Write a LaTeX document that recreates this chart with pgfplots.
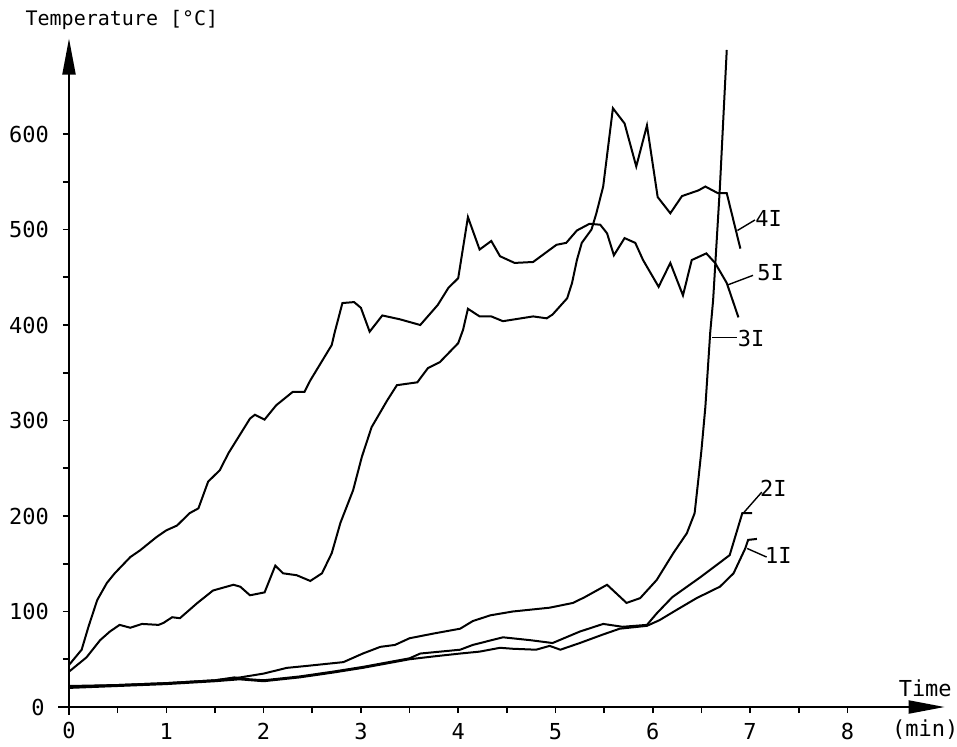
\documentclass[border=0pt]{standalone}
\usepackage{fontspec}
\setmainfont{DejaVu Sans Mono}
\usepackage{pgfplots}
\pgfplotsset{compat=1.18}
\usetikzlibrary{arrows.meta}

% temperature curves
\pgfplotstableread{
x y
0 44
0.13 60
0.2 84
0.29 112
0.39 130
0.47 140
0.63 157
0.73 164
0.9 178
1.0 185
1.11 190
1.24 203
1.33 208
1.43 236
1.55 248
1.64 266
1.86 302
1.91 306
2.01 301
2.13 316
2.30 330
2.42 330
2.48 342
2.70 379
2.73 392
2.81 423
2.93 424
3.0 418
3.09 393
3.22 410
3.40 406
3.61 400
3.79 421
3.90 439
4.0 449
4.10 513
4.22 479
4.34 488
4.43 472
4.58 465
4.77 466
5.01 484
5.11 486
5.22 499
5.35 506
5.46 505
5.53 496
5.60 473
5.71 491
5.82 486
5.90 468
6.06 440
6.18 465
6.31 431
6.40 468
6.55 475
6.64 465
6.76 444
6.88 408
}\fiveI

\pgfplotstableread{
x y
0 37
0.18 52
0.32 70
0.42 79
0.52 86
0.63 83
0.75 87
0.92 86
0.97 88
1.06 94
1.14 93
1.32 109
1.48 122
1.69 128
1.76 126
1.86 117
2.01 120
2.12 148
2.20 140
2.34 138
2.48 132
2.60 140
2.70 161
2.79 193
2.92 227
3.01 262
3.11 293
3.27 321
3.37 337
3.58 340
3.69 355
3.81 361
4.0 381
4.05 395
4.10 417
4.22 409
4.34 409
4.46 404
4.77 409
4.91 407
4.97 411
5.12 428
5.17 444
5.22 468
5.27 486
5.37 500
5.42 517
5.49 545
5.59 627
5.71 611
5.83 566
5.94 609
6.05 534
6.18 517
6.30 535
6.47 541
6.54 545
6.67 538
6.76 538
6.9 480
}\fourI

\pgfplotstableread{
x y
0 22
0.5 23
1.0 25
1.5 28
1.7 30
2.0 35
2.24 41
2.44 43
2.82 47
3.02 56
3.2 63
3.35 65
3.5 72
3.75 77
4.02 82
4.15 90
4.33 96
4.56 100
4.94 104
5.18 109
5.3 115
5.53 128
5.73 109
5.87 114
6.04 133
6.21 161
6.35 182
6.43 203
6.47 240
6.50 269
6.54 314
6.59 392
6.62 426
6.69 545
6.76 688
}\threeI

\pgfplotstableread{
x y
0 21
0.5 23
1.0 25
1.5 28
1.7 31
1.86 29
2.0 28
2.37 32
2.71 37
3.02 42
3.5 51
3.61 56
4.02 60
4.15 65
4.46 73
4.74 70
4.97 67
5.25 79
5.49 87
5.69 84
5.94 86
6.04 98
6.2 115
6.49 136
6.79 159
6.92 203
7.02 203
}\twoI

\pgfplotstableread{
x y
0 20
0.5 22
1.0 24
1.5 27
1.75 29
2.0 27
2.37 31
2.71 36
3.02 41
3.5 50
3.75 53
4.02 56
4.22 58
4.43 62
4.56 61
4.8 60
4.94 64
5.05 60
5.25 67
5.49 76
5.66 82
5.94 85
6.07 91
6.25 102
6.45 114
6.69 126
6.83 140
6.95 166
6.98 175
7.07 176
}\oneI

\begin{document}
\begin{tikzpicture}
\path[use as bounding box] (-34.5pt,-19.5pt) rectangle (444pt,353.5pt);
\begin{axis}[
    anchor=origin, at={(0pt,0pt)},
    x=48.65pt, y=0.4775pt,
    xmin=-0.11, xmax=9,
    ymin=-8, ymax=700,
    axis lines=middle,
    axis line style={line width=1pt, -{Triangle[length=18pt,width=6.5pt]}},
    xtick={0,1,...,8},
    ytick={0,100,...,600},
    minor tick num=1,
    tick align=outside,
    major tick length=3pt,
    minor tick length=3pt,
    tick style={line width=0.8pt, black},
    /pgf/number format/assume math mode=true,
    tick label style={font=\fontsize{11}{13}\selectfont},
    xticklabel style={yshift=-1.5pt},
    yticklabel style={xshift=-3.5pt},
    clip=false,
]
\addplot[black, line width=1pt] table {\fiveI};
\addplot[black, line width=1pt] table {\fourI};
\addplot[black, line width=1pt] table {\threeI};
\addplot[black, line width=1pt] table {\twoI};
\addplot[black, line width=1pt] table {\oneI};

% origin labels (hidden by the centred axis lines)
\node[anchor=base, inner sep=0, font=\fontsize{11}{13}\selectfont] at ([yshift=-15.5pt]axis cs:0,0) {0};
\node[anchor=east, inner sep=0, font=\fontsize{11}{13}\selectfont] at ([xshift=-12pt]axis cs:0,0) {0};

% curve labels with leaders
\draw[line width=0.7pt] (axis cs:6.87,499) -- (axis cs:7.05,510);
\node[font=\fontsize{11}{13}\selectfont] at (axis cs:7.19,512) {4I};
\draw[line width=0.7pt] (axis cs:6.77,442) -- (axis cs:7.03,452);
\node[font=\fontsize{11}{13}\selectfont] at (axis cs:7.21,455) {5I};
\draw[line width=0.7pt] (axis cs:6.61,387) -- (axis cs:6.87,387);
\node[font=\fontsize{11}{13}\selectfont] at (axis cs:7.01,386) {3I};
\draw[line width=0.7pt] (axis cs:6.93,203) -- (axis cs:7.12,225);
\node[font=\fontsize{11}{13}\selectfont] at (axis cs:7.24,229) {2I};
\draw[line width=0.7pt] (axis cs:6.97,166) -- (axis cs:7.17,157);
\node[font=\fontsize{11}{13}\selectfont] at (axis cs:7.29,159) {1I};

% axis titles
\node[anchor=west, inner sep=0, font=\fontsize{10}{12}\selectfont] at (axis cs:-0.45,719) {Temperature [°C]};
\node[font=\fontsize{11}{13}\selectfont] at (axis cs:8.8,20) {Time};
\node[font=\fontsize{11}{13}\selectfont] at (axis cs:8.8,-24) {(min)};
\end{axis}
\end{tikzpicture}
\end{document}
